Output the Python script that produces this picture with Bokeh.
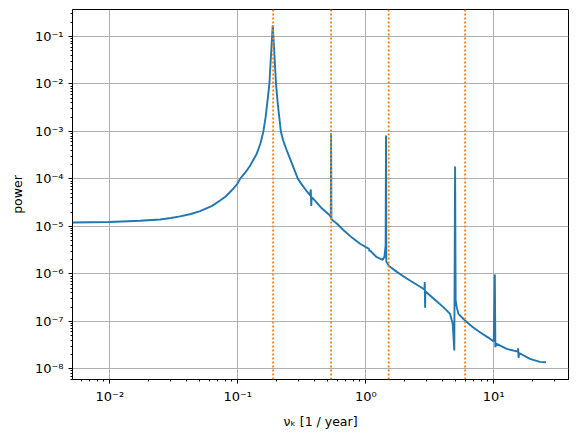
from bokeh.plotting import figure
from bokeh.models import FixedTicker, Span
from bokeh.embed import file_html
from bokeh.resources import INLINE

# spectrum (frequency in 1/year, power)
freq = [0.00508, 0.00993, 0.01725, 0.0247, 0.030, 0.0354, 0.043, 0.0508, 0.063, 0.0727,
        0.080, 0.0871, 0.093, 0.0993, 0.1042, 0.110, 0.1175, 0.1248, 0.132, 0.1408,
        0.150, 0.1585, 0.165, 0.1700, 0.1766, 0.182, 0.1876, 0.193, 0.199, 0.205,
        0.217, 0.226, 0.2414, 0.26, 0.295, 0.32, 0.346,
        0.368, 0.372, 0.375, 0.378, 0.390, 0.453, 0.526, 0.533, 0.536, 0.539, 0.548,
        0.60, 0.668, 0.78, 0.903, 1.06, 1.07, 1.08, 1.219, 1.357, 1.40, 1.43, 1.44, 1.447, 1.528,
        1.75, 2.09, 2.82, 2.88, 2.89, 2.91, 2.92, 3.4, 4.04, 4.56, 4.78, 4.92, 4.99, 5.04, 5.14,
        5.30, 5.97, 6.8, 7.81, 9.0, 10.0, 10.2, 10.3, 10.45, 12.64, 15.4, 15.5, 15.65, 15.8,
        19.2, 23.0, 25.6]
power = [1.21e-5, 1.24e-5, 1.31e-5, 1.40e-5, 1.50e-5, 1.62e-5, 1.82e-5, 2.1e-5, 2.7e-5, 3.5e-5,
         4.2e-5, 5.3e-5, 6.4e-5, 7.9e-5, 1.0e-4, 1.2e-4, 1.5e-4, 1.9e-4, 2.5e-4, 3.4e-4,
         5.5e-4, 1.0e-3, 2.0e-3, 4.0e-3, 1.0e-2, 4.3e-2, 1.71e-1, 4.5e-2, 1.0e-2, 4.0e-3,
         1.0e-3, 6.5e-4, 4.0e-4, 2.4e-4, 1.0e-4, 7.3e-5, 5.5e-5,
         4.5e-5, 6.0e-5, 2.7e-5, 4.1e-5, 3.8e-5, 2.4e-5, 1.69e-5, 1.55e-5, 9.2e-4, 1.42e-5, 1.36e-5,
         1.12e-5, 8.4e-6, 5.8e-6, 4.30e-6, 3.35e-6, 3.0e-6, 3.1e-6, 2.24e-6, 1.98e-6, 2.3e-6, 4.0e-6, 8.2e-4, 1.8e-6, 1.45e-6,
         1.1e-6, 8.0e-7, 4.84e-7, 4.6e-7, 6.7e-7, 1.93e-7, 4.3e-7, 3.0e-7, 1.99e-7, 1.44e-7, 8.87e-8, 2.43e-8, 1.82e-4, 2.75e-7, 1.99e-7,
         1.44e-7, 1.04e-7, 7.7e-8, 5.90e-8, 4.6e-8, 3.75e-8, 9.7e-7, 2.85e-8, 3.4e-8, 2.63e-8, 2.3e-8, 2.7e-8, 1.7e-8, 2.15e-8,
         1.62e-8, 1.40e-8, 1.37e-8]

# dotted reference frequencies
ref_freq = [0.189, 0.536, 1.51, 5.98]

# tick positions / labels
x_ticks = [0.01, 0.1, 1, 10]
x_labels = ["10⁻²", "10⁻¹", "10⁰", "10¹"]
y_ticks = [1e-8, 1e-7, 1e-6, 1e-5, 1e-4, 1e-3, 1e-2, 1e-1]
y_labels = ["10⁻⁸", "10⁻⁷", "10⁻⁶", "10⁻⁵", "10⁻⁴", "10⁻³", "10⁻²", "10⁻¹"]

x_minor = [m * 10.0 ** e for e in range(-3, 2) for m in range(2, 10)]
y_minor = [m * 10.0 ** e for e in range(-9, 0) for m in range(2, 10)]

FONT = "DejaVu Sans"

p = figure(width=578, height=435, x_axis_type="log", y_axis_type="log",
           x_range=(0.00511, 38.4), y_range=(5.95e-9, 0.37),
           output_backend="svg", toolbar_location=None,
           min_border_left=72, min_border_right=10, min_border_top=9, min_border_bottom=56)

p.background_fill_color = "white"
p.border_fill_color = "white"
p.outline_line_color = "black"
p.outline_line_width = 1
p.outline_line_alpha = 1

p.xaxis.ticker = FixedTicker(ticks=x_ticks, minor_ticks=x_minor)
p.yaxis.ticker = FixedTicker(ticks=y_ticks, minor_ticks=y_minor)
p.xaxis.major_label_overrides = {t: l for t, l in zip(x_ticks, x_labels)}
p.yaxis.major_label_overrides = {t: l for t, l in zip(y_ticks, y_labels)}

for ax in (p.xaxis, p.yaxis):
    ax.axis_line_color = "black"
    ax.major_tick_line_color = "black"
    ax.minor_tick_line_color = "black"
    ax.major_tick_in = 0
    ax.major_tick_out = 4
    ax.minor_tick_in = 0
    ax.minor_tick_out = 2
    ax.major_label_text_font = FONT
    ax.major_label_text_font_size = "13px"
    ax.major_label_text_color = "black"
    ax.axis_label_text_font = FONT
    ax.axis_label_text_font_size = "12.5px"
    ax.axis_label_text_font_style = "normal"
    ax.axis_label_text_color = "black"

p.xaxis.axis_label = "νₖ [1 / year]"
p.yaxis.axis_label = "power"
p.xaxis.axis_label_standoff = 7
p.yaxis.axis_label_standoff = 7

p.grid.grid_line_color = "#b0b0b0"
p.grid.grid_line_width = 1
p.xgrid.ticker = FixedTicker(ticks=x_ticks)
p.ygrid.ticker = FixedTicker(ticks=y_ticks)

p.line(freq, power, line_color="#1f77b4", line_width=1.9)

for f in ref_freq:
    p.add_layout(Span(location=f, dimension="height", line_color="#ff7f0e",
                      line_width=1.9, line_dash="2 2"))

open("out.html", "w").write(file_html(p, INLINE))
